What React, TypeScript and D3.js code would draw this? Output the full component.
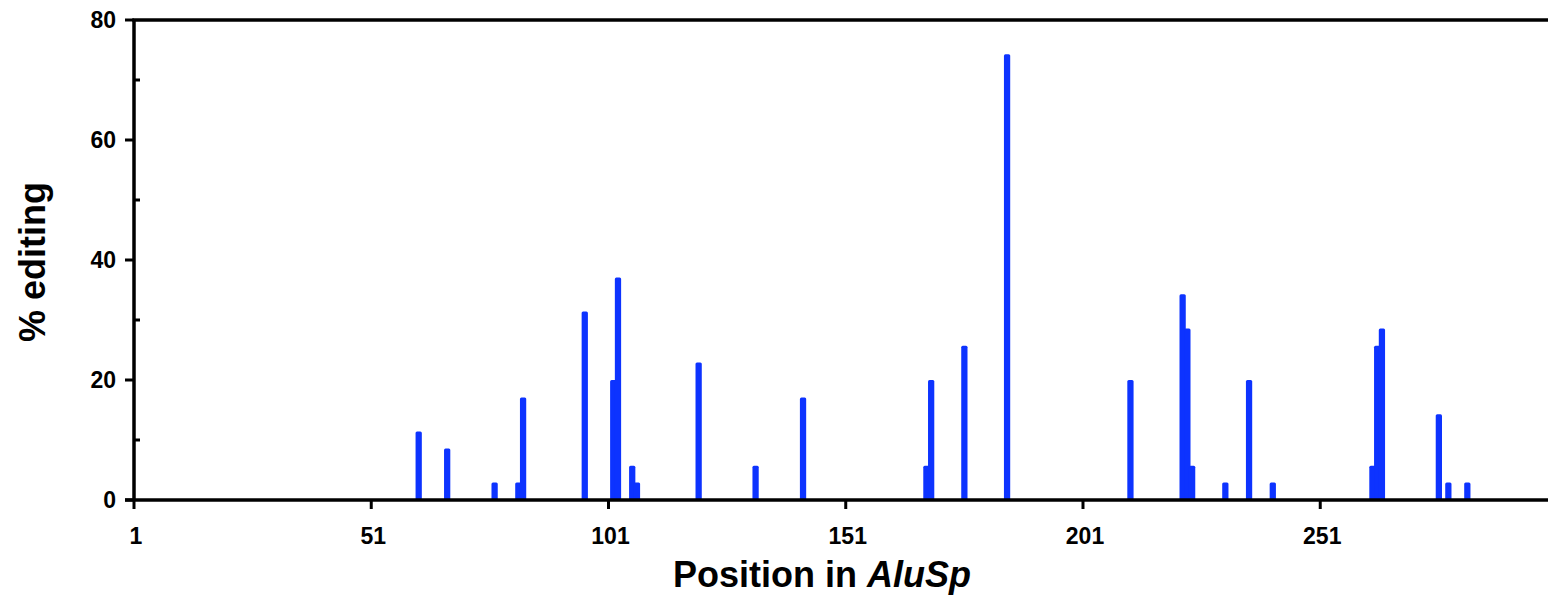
import { scaleLinear } from "d3";

// editing sites along the AluSp element (position, % editing)
const positions = [
  61, 67, 77, 82, 83, 96, 102, 103, 106, 107, 120, 132, 142, 168, 169, 176,
  185, 211, 222, 223, 224, 231, 236, 241, 262, 263, 264, 276, 278, 282,
];
const editing = [
  11.4, 8.6, 2.9, 2.9, 17.1, 31.4, 20, 37.1, 5.7, 2.9, 22.9, 5.7, 17.1, 5.7,
  20, 25.7, 74.3, 20, 34.3, 28.6, 5.7, 2.9, 20, 2.9, 5.7, 25.7, 28.6, 14.3,
  2.9, 2.9,
];
const xTickValues = [1, 51, 101, 151, 201, 251];
const yTickValues = [0, 20, 40, 60, 80];
const yMinorTicks = [10, 30, 50, 70];

const W = 1548;
const H = 605;
const FONT = "'Liberation Sans', Arial, Helvetica, sans-serif";
const BAR = "#0d33ff";

export default function App() {
  const x = scaleLinear().domain([1, 299]).range([134, 1548]);
  const y = scaleLinear().domain([0, 80]).range([500, 20]);
  // bars are a bit wider than one position step
  const half = x(1.66) - x(1);

  return (
    <svg
      width={W}
      height={H}
      style={{ position: "absolute", left: 0, top: 0, background: "#fff" }}
      fontFamily={FONT}
      fontWeight="bold"
    >
      {/* bars */}
      {positions.map((p, i) => (
        <rect
          key={`bar-${i}`}
          x={x(p) - half}
          y={y(editing[i])}
          width={half * 2}
          height={y(0) - y(editing[i]) + 1}
          rx={1.5}
          fill={BAR}
        />
      ))}

      {/* top frame line */}
      <line x1={x(1) - 1.75} x2={W} y1={y(80)} y2={y(80)} stroke="#000" strokeWidth={3.5} />

      {/* y axis */}
      <line x1={x(1)} x2={x(1)} y1={y(80)} y2={y(0)} stroke="#000" strokeWidth={3.5} />
      {yTickValues.map((t) => (
        <g key={`yt-${t}`} transform={`translate(${x(1)},${y(t)})`}>
          <line x1={-9} x2={0} stroke="#000" strokeWidth={3} />
          <text x={-18} dy="0.36em" textAnchor="end" fontSize={23}>
            {t}
          </text>
        </g>
      ))}
      {yMinorTicks.map((t) => (
        <line
          key={`ym-${t}`}
          x1={x(1)}
          x2={x(1) + 6}
          y1={y(t)}
          y2={y(t)}
          stroke="#000"
          strokeWidth={3}
        />
      ))}

      {/* x axis */}
      <line x1={x(1) - 9} x2={W} y1={y(0)} y2={y(0)} stroke="#000" strokeWidth={3.5} />
      {xTickValues.map((t) => (
        <g key={`xt-${t}`} transform={`translate(${x(t)},${y(0)})`}>
          <line y1={0} y2={9} stroke="#000" strokeWidth={3} />
          <text x={2} y={44} textAnchor="middle" fontSize={23}>
            {t}
          </text>
        </g>
      ))}

      {/* axis titles */}
      <text x={822} y={587} textAnchor="middle" fontSize={36}>
        Position in <tspan fontStyle="italic">AluSp</tspan>
      </text>
      <text
        transform={`translate(45,262) rotate(-90)`}
        textAnchor="middle"
        fontSize={36}
      >
        % editing
      </text>
    </svg>
  );
}
